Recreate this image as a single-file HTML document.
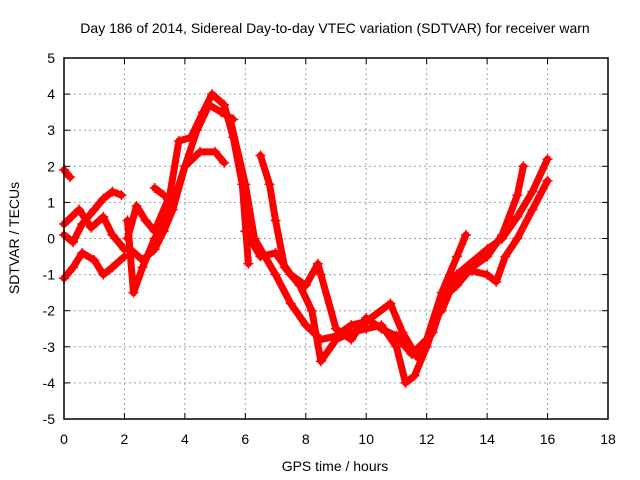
<!DOCTYPE html>
<html><head><meta charset="utf-8"><style>
body{margin:0;background:#fff;font-family:"Liberation Sans",sans-serif}
svg{display:block}
</style></head><body>
<svg id="c" width="640" height="480" font-family="Liberation Sans, sans-serif" font-size="14"></svg>
<script>
const xTicks=[0,2,4,6,8,10,12,14,16,18];
const yTicks=[-5,-4,-3,-2,-1,0,1,2,3,4,5];
const s1x=[0,0.2];const s1y=[1.9,1.7];
const s2x=[0,0.3,0.6,1,1.3,1.6,1.9];const s2y=[0.1,-0.1,0.4,0.8,1.1,1.3,1.2];
const s3x=[0,0.3,0.6,1,1.3,1.6,2];const s3y=[-1.1,-0.8,-0.4,-0.6,-1,-0.8,-0.5];
const s4x=[0,0.5,0.9,1.3,1.6,2];const s4y=[0.4,0.8,0.3,0.6,0.1,-0.3];
const s5x=[2.1,2.3,2.6,3,3.5,4,4.5,5,5.3];const s5y=[0.5,-1.5,-0.8,0,0.7,2,2.4,2.4,2.1];
const s6x=[2.1,2.4,2.7,3,3.5,3.8,4.2,4.6,4.9,5.3,5.6,5.9,6.1];const s6y=[0,0.9,0.5,0.2,1.2,2.7,2.8,3.5,4.0,3.7,2.8,1.5,-0.7];
const s7x=[2.2,2.6,3,3.3,3.6,4,4.4,4.8,5.2,5.6];const s7y=[-0.3,-0.6,-0.3,0.2,0.8,2,3.0,3.7,3.5,3.3];
const s8x=[3,3.3];const s8y=[1.4,1.2];
const s9x=[6.5,6.8,7,7.3,7.8,8.2,8.5,9,9.5,10,10.5,11,11.3,11.6,12,12.5,13,13.5,14,14.3,14.6,15,15.5,16];
const s9y=[2.3,1.5,0.5,-0.8,-1.3,-2,-3.4,-2.8,-2.6,-2.5,-2.4,-3,-4,-3.8,-3,-1.8,-1,-0.9,-1,-1.2,-0.5,0,0.8,1.6];
const s10x=[6,6.5,7,7.5,8,8.4,8.5,9,9.5,10,10.5,11,11.5,12,12.5,13,13.3];
const s10y=[0.2,-0.5,-0.4,-1,-1.3,-0.7,-1,-2.5,-2.8,-2.2,-2.5,-2.7,-3.2,-2.8,-1.5,-0.5,0.1];
const s11x=[5.5,6,6.3,7,7.5,8,8.5,9,9.5,10,10.8,11.2,11.7,12.2,12.6,13,13.5,14,14.5,15,15.2];
const s11y=[3.3,1.5,0,-1,-1.8,-2.4,-2.8,-2.7,-2.4,-2.3,-1.8,-2.6,-3.3,-2.6,-1.6,-1.3,-0.8,-0.5,0.1,1.2,2.0];
const s12x=[12.5,13,14,14.5,15,15.5,16];const s12y=[-2,-1,-0.3,0,0.6,1.3,2.2];
const series=[[s1x,s1y],[s2x,s2y],[s3x,s3y],[s4x,s4y],[s5x,s5y],[s6x,s6y],[s7x,s7y],[s8x,s8y],[s9x,s9y],[s10x,s10y],[s11x,s11y],[s12x,s12y]];
const L=64,R=608,T=58,B=419;
const X=v=>L+(v-0)/18*(R-L);
const Y=v=>B-(v+5)/10*(B-T);
const svg=document.getElementById('c');const NS='http://www.w3.org/2000/svg';
function mk(t,a,p){const e=document.createElementNS(NS,t);for(const k in a)e.setAttribute(k,a[k]);(p||svg).appendChild(e);return e;}
xTicks.forEach(v=>{
 if(v>0&&v<18){const g=mk('line',{x1:X(v),x2:X(v),y1:T,y2:B,stroke:'#a0a0a0','stroke-dasharray':'2,3'});
 
 }
 mk('line',{x1:X(v),x2:X(v),y1:B,y2:B-6,stroke:'#000'});mk('line',{x1:X(v),x2:X(v),y1:T,y2:T+6,stroke:'#000'});
 const t=mk('text',{x:X(v),y:B+25,'text-anchor':'middle',fill:'#000'});t.textContent=v;
 
 
});
yTicks.forEach(v=>{
 if(v>-5&&v<5){const g=mk('line',{x1:L,x2:R,y1:Y(v),y2:Y(v),stroke:'#a0a0a0','stroke-dasharray':'2,3'});
 
 }
 mk('line',{x1:L,x2:L+6,y1:Y(v),y2:Y(v),stroke:'#000'});mk('line',{x1:R,x2:R-6,y1:Y(v),y2:Y(v),stroke:'#000'});
 const t=mk('text',{x:L-9,y:Y(v)+5,'text-anchor':'end',fill:'#000'});t.textContent=v;
 
 
});
series.forEach(([xs,ys])=>{
 const pts=xs.map((x,i)=>X(x)+','+Y(ys[i])).join(' ');
 const pl=mk('polyline',{points:pts,fill:'none',stroke:'#ff0000','stroke-width':7,'stroke-linejoin':'round','stroke-linecap':'round'});
 
 
 xs.forEach((x,i)=>{const px=X(x),py=Y(ys[i]);
  const m=mk('path',{d:`M${px-5},${py}h10M${px},${py-5}v10`,stroke:'#ff0000','stroke-width':1.5});
  
  });
});
const fr=mk('rect',{x:L,y:T,width:R-L,height:B-T,fill:'none',stroke:'#000','stroke-width':1.5});


const ti=mk('text',{x:335,y:33,'text-anchor':'middle',fill:'#000'});ti.textContent='Day 186 of 2014, Sidereal Day-to-day VTEC variation (SDTVAR) for receiver warn';


const xl=mk('text',{x:335,y:471,'text-anchor':'middle',fill:'#000'});xl.textContent='GPS time / hours';


const yl=mk('text',{x:0,y:0,'text-anchor':'middle',fill:'#000',transform:'translate(19,238) rotate(-90)'});yl.textContent='SDTVAR / TECUs';


</script>
</body></html>
